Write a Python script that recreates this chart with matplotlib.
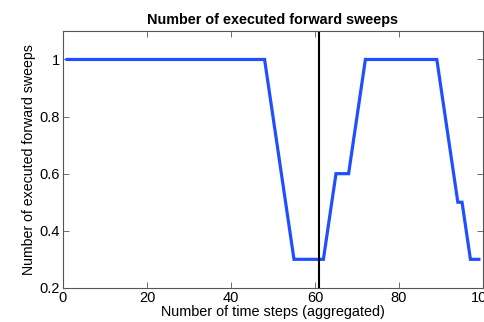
import matplotlib
matplotlib.use("Agg")
import matplotlib.pyplot as plt

# values
steps = [1, 48, 55, 62, 65, 68, 72, 89, 94, 95, 97, 99]
sweeps = [1.0, 1.0, 0.3, 0.3, 0.6, 0.6, 1.0, 1.0, 0.5, 0.5, 0.3, 0.3]
marker_step = 61
x_ticks = [0, 20, 40, 60, 80, 100]
y_ticks = [0.2, 0.4, 0.6, 0.8, 1.0]
y_tick_labels = ["0.2", "0.4", "0.6", "0.8", "1"]

plt.rcParams['font.family'] = ['Liberation Sans', 'DejaVu Sans']
plt.rcParams['font.size'] = 10

fig = plt.figure(figsize=(4.84, 3.22), dpi=100, facecolor='white')
ax = fig.add_axes([0.130, 0.106, 0.868, 0.798])

ax.plot(steps, sweeps, color='#1f4fff', linewidth=2.3, solid_joinstyle='miter')
ax.axvline(marker_step, color='black', linewidth=1.5)

ax.set_xlim(0, 100)
ax.set_ylim(0.2, 1.1)
ax.set_xticks(x_ticks)
ax.set_yticks(y_ticks)
ax.set_yticklabels(y_tick_labels)
ax.tick_params(direction='in', top=True, right=True, length=4, width=0.6,
               color='#555555', labelsize=10.5, pad=2)
for s in ax.spines.values():
    s.set_color('#555555')
    s.set_linewidth(0.8)

ax.set_title("Number of executed forward sweeps", fontsize=10.4, fontweight='bold', pad=5)
ax.set_xlabel("Number of time steps (aggregated)", fontsize=10.4, labelpad=0)
ax.set_ylabel("Number of executed forward sweeps", fontsize=10.2, labelpad=3)

fig.savefig("out.png", dpi=100, facecolor='white')
